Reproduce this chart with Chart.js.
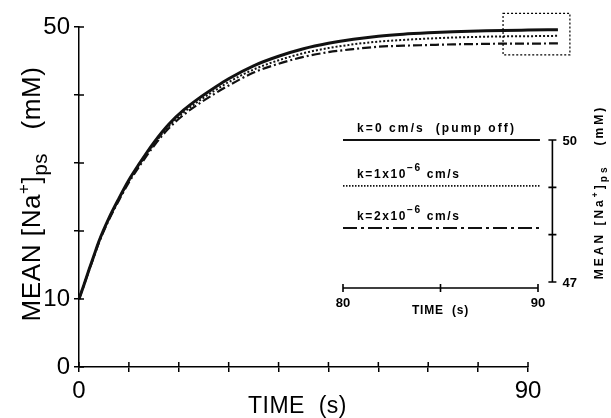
<!DOCTYPE html>
<html lang="en">
<head>
<meta charset="UTF-8" />
<title>Mean [Na+]ps vs time</title>
<script src="https://cdn.jsdelivr.net/npm/chart.js"></script>
<style>
  body { margin: 0; background: #fff; }
  #wrap { position: relative; width: 611px; height: 418px; }
  canvas { position: absolute; left: 0; top: 0; }
</style>
</head>
<body>
<div id="wrap">
  <canvas id="main" width="611" height="418"></canvas>
  <canvas id="inset" width="611" height="418"></canvas>
</div>
<script>
// main panel: mean [Na+]ps (mM) against time (s), one series per pump rate k
const times     = [0, 1, 2, 3, 4, 6, 8, 10, 12, 15, 18, 21, 24, 27, 30, 35, 40, 45, 50, 55, 60, 65, 70, 75, 80, 85, 90, 96];
const naPumpOff = [10, 12.1, 14.3, 16.4, 18.5, 21.9, 24.8, 27.5, 29.8, 33.0, 35.7, 37.8, 39.5, 41.0, 42.4, 44.3, 45.7, 46.8, 47.6, 48.2, 48.65, 48.95, 49.15, 49.3, 49.4, 49.5, 49.55, 49.6];
const naK1      = [10, 12.1, 14.25, 16.35, 18.45, 21.8, 24.7, 27.35, 29.6, 32.75, 35.4, 37.45, 39.1, 40.55, 41.9, 43.75, 45.1, 46.15, 46.9, 47.45, 47.85, 48.1, 48.3, 48.45, 48.55, 48.62, 48.65, 48.7];
const naK2      = [10, 12.05, 14.2, 16.25, 18.3, 21.65, 24.5, 27.15, 29.4, 32.5, 35.1, 37.1, 38.7, 40.1, 41.4, 43.3, 44.6, 45.6, 46.3, 46.75, 47.1, 47.25, 47.35, 47.45, 47.5, 47.55, 47.55, 47.6];

const xTicks = [0, 10, 20, 30, 40, 50, 60, 70, 80, 90];
const yTicks = [0, 10, 20, 30, 40, 50];
const xLabelled = [0, 90];
const yLabelled = [0, 10, 50];

// dotted box marking the zoomed region (data units)
const zoomBoxX = [85, 98.4];
const zoomBoxY = [45.9, 52];

// inset: end values over 80-90 s
const insetTimes  = [80, 90.1];
const insetLevels = [50.0, 49.03, 48.14];
const insetXTicks = [80, 85, 90];
const insetYTicks = [47, 48, 49, 50];
const insetYLabelled = [47, 50];

const FONT = '"Liberation Sans", Arial, Helvetica, sans-serif';
const INK = '#111';

const lineStyles = [
  { width: 3, dash: [] },
  { width: 2, dash: [2, 2] },
  { width: 2.2, dash: [9, 3, 2, 3] }
];
const insetStyles = [
  { width: 2, dash: [] },
  { width: 1.6, dash: [1.5, 1.5] },
  { width: 2, dash: [14, 4, 3, 4] }
];

// text made of pieces, some raised or lowered (super/subscripts)
function richWidth(ctx, segs, size, weight, sp) {
  let w = 0;
  segs.forEach(s => {
    ctx.font = `${weight} ${size * (s.scale || 1)}px ${FONT}`;
    ctx.letterSpacing = sp + 'px';
    w += ctx.measureText(s.t).width;
  });
  return w;
}
function drawRich(ctx, segs, x, y, size, weight, sp, align) {
  let cx = align === 'center' ? x - richWidth(ctx, segs, size, weight, sp) / 2 : x;
  ctx.textBaseline = 'alphabetic';
  ctx.textAlign = 'left';
  segs.forEach(s => {
    ctx.font = `${weight} ${size * (s.scale || 1)}px ${FONT}`;
    ctx.letterSpacing = sp + 'px';
    ctx.fillText(s.t, cx, y + (s.dy || 0) * size);
    cx += ctx.measureText(s.t).width;
  });
  ctx.letterSpacing = '0px';
}

const mainDecor = {
  id: 'mainDecor',
  afterDraw(chart) {
    const { ctx, chartArea: a, scales: { x, y } } = chart;
    ctx.save();
    ctx.strokeStyle = '#000';
    ctx.fillStyle = '#000';
    ctx.lineWidth = 1.5;
    // inner halves of the tick marks
    ctx.beginPath();
    yTicks.forEach(v => {
      const py = y.getPixelForValue(v);
      ctx.moveTo(a.left, py); ctx.lineTo(a.left + 5, py);
    });
    xTicks.forEach(v => {
      const px = x.getPixelForValue(v);
      ctx.moveTo(px, a.bottom); ctx.lineTo(px, a.bottom - 5);
    });
    ctx.stroke();

    // zoom box
    ctx.lineWidth = 1.2;
    ctx.setLineDash([2, 2]);
    const bx0 = x.getPixelForValue(zoomBoxX[0]), bx1 = x.getPixelForValue(zoomBoxX[1]);
    const by0 = y.getPixelForValue(zoomBoxY[1]), by1 = y.getPixelForValue(zoomBoxY[0]);
    ctx.strokeRect(bx0, by0, bx1 - bx0, by1 - by0);
    ctx.setLineDash([]);

    // axis titles
    drawRich(ctx, [{ t: 'TIME  (s)' }], (a.left + a.right) / 2 - 6, 413, 23, 'normal', 0.5, 'center');
    ctx.translate(40, 194);
    ctx.rotate(-Math.PI / 2);
    drawRich(ctx, [
      { t: 'MEAN [Na' },
      { t: '+', scale: 0.65, dy: -0.42 },
      { t: ']' },
      { t: 'ps', scale: 0.78, dy: 0.28 },
      { t: '   (mM)' }
    ], 0, 0, 26, 'normal', 0.6, 'center');
    ctx.restore();
  }
};

const insetDecor = {
  id: 'insetDecor',
  afterDraw(chart) {
    const { ctx, scales: { x, y } } = chart;
    ctx.save();
    ctx.strokeStyle = '#000';
    ctx.fillStyle = '#000';
    ctx.lineWidth = 1.6;

    // time axis under the inset
    const ay = y.getPixelForValue(47) + 6;
    ctx.beginPath();
    ctx.moveTo(x.getPixelForValue(insetXTicks[0]), ay);
    ctx.lineTo(x.getPixelForValue(insetXTicks[insetXTicks.length - 1]), ay);
    insetXTicks.forEach(v => {
      const px = x.getPixelForValue(v);
      ctx.moveTo(px, ay - 4); ctx.lineTo(px, ay + 4);
    });
    // concentration axis right of the inset
    const ax = x.getPixelForValue(90) + 14.4;
    ctx.moveTo(ax, y.getPixelForValue(50));
    ctx.lineTo(ax, y.getPixelForValue(47));
    insetYTicks.forEach(v => {
      const py = y.getPixelForValue(v);
      ctx.moveTo(ax - 4, py); ctx.lineTo(ax + 4, py);
    });
    ctx.stroke();

    ctx.font = `bold 13px ${FONT}`;
    ctx.textBaseline = 'top';
    ctx.textAlign = 'center';
    [80, 90].forEach(v => ctx.fillText(String(v), x.getPixelForValue(v), ay + 9));
    drawRich(ctx, [{ t: 'TIME  (s)' }], x.getPixelForValue(85), ay + 26, 12, 'bold', 0.8, 'center');

    ctx.font = `bold 13px ${FONT}`;
    ctx.textBaseline = 'middle';
    ctx.textAlign = 'left';
    insetYLabelled.forEach(v => ctx.fillText(String(v), ax + 10, y.getPixelForValue(v) + 1));

    // series names above each line
    const names = [
      [{ t: 'k=0 cm/s  (pump off)' }],
      [{ t: 'k=1x10' }, { t: '\u22126', scale: 0.85, dy: -0.55 }, { t: ' cm/s' }],
      [{ t: 'k=2x10' }, { t: '\u22126', scale: 0.85, dy: -0.55 }, { t: ' cm/s' }]
    ];
    names.forEach((segs, i) => {
      drawRich(ctx, segs, x.getPixelForValue(80) + 14, y.getPixelForValue(insetLevels[i]) - 8, 12, 'bold', i === 0 ? 2.1 : 1.6, 'left');
    });

    ctx.translate(603, 192);
    ctx.rotate(-Math.PI / 2);
    drawRich(ctx, [
      { t: 'MEAN [Na' },
      { t: '+', scale: 0.7, dy: -0.45 },
      { t: ']' },
      { t: 'ps', scale: 0.85, dy: 0.3 },
      { t: '   (mM)' }
    ], 0, 0, 12, 'bold', 3, 'center');
    ctx.restore();
  }
};

const tickFont = { family: FONT, size: 24 };

new Chart(document.getElementById('main'), {
  type: 'line',
  data: {
    datasets: [naPumpOff, naK1, naK2].map((vals, i) => ({
      data: times.map((t, j) => ({ x: t, y: vals[j] })),
      borderColor: INK,
      borderWidth: lineStyles[i].width,
      borderDash: lineStyles[i].dash,
      pointRadius: 0,
      tension: 0.4,
      cubicInterpolationMode: 'monotone',
      fill: false,
      clip: false
    }))
  },
  options: {
    responsive: false,
    animation: false,
    events: [],
    layout: { padding: { top: 27, right: 83, left: 0, bottom: 0 } },
    plugins: { legend: { display: false }, tooltip: { enabled: false } },
    scales: {
      x: {
        type: 'linear',
        // axis stops at 90 s while the curves run on a little past it
        afterDataLimits: s => { s.min = xTicks[0]; s.max = xTicks[xTicks.length - 1]; },
        afterBuildTicks: s => { s.ticks = xTicks.map(v => ({ value: v })); },
        afterFit: s => { s.height = 51; },
        grid: { drawOnChartArea: false, color: '#000', lineWidth: 1.5, tickLength: 5 },
        border: { color: '#000', width: 1.5 },
        ticks: {
          color: '#000', font: tickFont, padding: 5, maxRotation: 0, autoSkip: false,
          callback: v => xLabelled.includes(v) ? String(v) : ''
        }
      },
      y: {
        type: 'linear', min: 0, max: 50,
        afterBuildTicks: s => { s.ticks = yTicks.map(v => ({ value: v })); },
        afterFit: s => { s.width = 79; },
        grid: { drawOnChartArea: false, color: '#000', lineWidth: 1.5, tickLength: 5 },
        border: { color: '#000', width: 1.5 },
        ticks: {
          color: '#000', font: tickFont, padding: 4, autoSkip: false,
          callback: v => yLabelled.includes(v) ? String(v) : ''
        }
      }
    }
  },
  plugins: [mainDecor]
});

new Chart(document.getElementById('inset'), {
  type: 'line',
  data: {
    datasets: insetLevels.map((lv, i) => ({
      data: insetTimes.map(t => ({ x: t, y: lv })),
      borderColor: INK,
      borderWidth: insetStyles[i].width,
      borderDash: insetStyles[i].dash,
      pointRadius: 0,
      fill: false,
      clip: false
    }))
  },
  options: {
    responsive: false,
    animation: false,
    events: [],
    layout: { padding: { left: 343, right: 73, top: 140, bottom: 136 } },
    plugins: { legend: { display: false }, tooltip: { enabled: false } },
    scales: {
      x: { type: 'linear', display: false, min: 80, max: 90 },
      y: { type: 'linear', display: false, min: 47, max: 50 }
    }
  },
  plugins: [insetDecor]
});
</script>
</body>
</html>
